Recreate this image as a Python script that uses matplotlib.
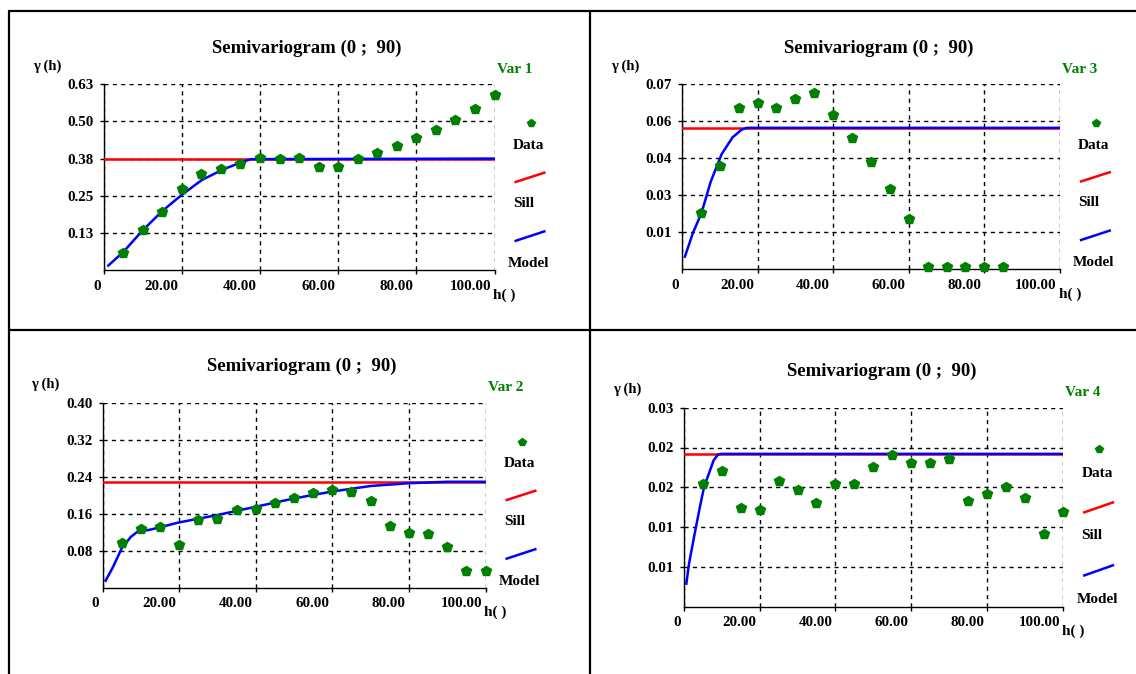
import numpy as np
import matplotlib.pyplot as plt
from matplotlib.lines import Line2D
import matplotlib.transforms as mtransforms

W, H = 1136, 674

# lag distances h (same for every variable, var 3 stops at 85)
lags = [5, 10, 15, 20, 25, 30, 35, 40, 45, 50, 55, 60, 65, 70, 75, 80, 85, 90, 95, 100]
lags_var3 = lags[:17]

var1_gamma = [0.057, 0.136, 0.197, 0.275, 0.327, 0.342, 0.361, 0.379, 0.378, 0.380,
              0.351, 0.351, 0.375, 0.398, 0.421, 0.448, 0.476, 0.510, 0.547, 0.594]
var2_gamma = [0.096, 0.128, 0.132, 0.092, 0.146, 0.149, 0.167, 0.170, 0.183, 0.195,
              0.205, 0.211, 0.207, 0.187, 0.133, 0.119, 0.116, 0.088, 0.037, 0.037]
var3_gamma = [0.0211, 0.0390, 0.0610, 0.0631, 0.0610, 0.0644, 0.0667, 0.0583, 0.0496,
              0.0405, 0.0303, 0.0190, 0.0006, 0.0006, 0.0006, 0.0006, 0.0006]
var4_gamma = [0.0154, 0.0170, 0.0124, 0.0122, 0.0158, 0.0147, 0.0130, 0.0154, 0.0154, 0.0175,
              0.0191, 0.0180, 0.0180, 0.0186, 0.0133, 0.0142, 0.0151, 0.0137, 0.0091, 0.0119]

# sills
sill = {"Var 1": 0.378, "Var 2": 0.229, "Var 3": 0.0535, "Var 4": 0.0192}

# fitted model curves
var1_model_h = [1.2, 5.1, 10.1, 15.1, 19.9, 25.1, 30.2, 35.1, 37.7, 100]
var1_model_g = [0.015, 0.062, 0.136, 0.201, 0.254, 0.305, 0.339, 0.365, 0.376, 0.378]
var2_model_h = [0.8, 2.7, 5.0, 7.4, 9.3, 12.2, 14.7, 19.9, 29.9, 40.0, 50.0, 60.0, 70.1, 80.1, 90.0, 100]
var2_model_g = [0.015, 0.044, 0.085, 0.110, 0.122, 0.125, 0.130, 0.141, 0.157, 0.175, 0.193,
                0.208, 0.220, 0.226, 0.229, 0.229]
var3_model_h = [0.8, 2.9, 5.2, 7.6, 10.5, 13.4, 15.8, 17.2, 100]
var3_model_g = [0.0047, 0.0136, 0.0213, 0.0330, 0.0435, 0.0499, 0.0528, 0.0535, 0.0535]
var4_model_h = [0.7, 1.4, 2.9, 4.3, 5.4, 6.7, 7.9, 9.0, 10.0, 100]
var4_model_g = [0.0029, 0.0054, 0.0092, 0.0126, 0.0151, 0.0168, 0.0184, 0.0191, 0.0192, 0.0192]

# axis tops and tick labels
x_ticks = [0, 20, 40, 60, 80, 100]
x_ticklabels = ["0", "20.00", "40.00", "60.00", "80.00", "100.00"]
ytop = {"Var 1": 0.63, "Var 2": 0.40, "Var 3": 0.07, "Var 4": 0.025}
y_ticklabels = {
    "Var 1": ["0.13", "0.25", "0.38", "0.50", "0.63"],
    "Var 2": ["0.08", "0.16", "0.24", "0.32", "0.40"],
    "Var 3": ["0.01", "0.03", "0.04", "0.06", "0.07"],
    "Var 4": ["0.01", "0.01", "0.02", "0.02", "0.03"],
}

panels = [
    # name, h, gamma, model h, model g, axes box in pixels (L, T, R, B)
    ("Var 1", lags, var1_gamma, var1_model_h, var1_model_g, (103.6, 84.3, 494.5, 270.0)),
    ("Var 3", lags_var3, var3_gamma, var3_model_h, var3_model_g, (681.9, 84.3, 1059.9, 269.0)),
    ("Var 2", lags, var2_gamma, var2_model_h, var2_model_g, (102.5, 402.7, 485.5, 587.7)),
    ("Var 4", lags, var4_gamma, var4_model_h, var4_model_g, (683.7, 407.7, 1063.1, 606.7)),
]

FONT = "Liberation Serif"
GREEN = "#008000"

fig = plt.figure(figsize=(W / 100, H / 100), dpi=100)


def fx(x):
    return x / W


def fy(y):
    return 1 - y / H


def ftext(x, y, s, size=10.5, color="black", ha="center"):
    fig.text(fx(x), fy(y), s, fontsize=size, fontfamily=FONT, fontweight="bold",
             color=color, ha=ha, va="center")


def fline(x0, y0, x1, y1, color, lw):
    fig.add_artist(Line2D([fx(x0), fx(x1)], [fy(y0), fy(y1)], color=color, lw=lw,
                          transform=fig.transFigure, solid_capstyle="butt"))


# table borders
fline(8, 11, W, 11, "black", 1.6)
fline(8.5, 11, 8.5, H, "black", 1.6)
fline(590, 11, 590, H, "black", 1.6)
fline(8, 330, W, 330, "black", 1.6)

for name, h, g, mh, mg, (L, T, R, B) in panels:
    ax = fig.add_axes([fx(L), fy(B), (R - L) / W, (B - T) / H])
    top = ytop[name]
    yt = [top * k / 5 for k in range(1, 6)]

    ax.plot([0, 100], [sill[name], sill[name]], color="#ff0000", lw=1.8, zorder=3)
    ax.plot(mh, mg, color="#0000ff", lw=1.8, zorder=4)
    ax.plot(h, g, ls="none", marker="p", ms=7, color=GREEN, mec=GREEN, zorder=5, clip_on=False)

    ax.set_xlim(0, 100)
    ax.set_ylim(0, top)
    ax.set_xticks(x_ticks)
    ax.set_xticklabels(x_ticklabels)
    ax.set_yticks(yt)
    ax.set_yticklabels(y_ticklabels[name])
    ax.grid(True, color="black", lw=1.0, ls=(0, (3, 3)))
    for s in ("top", "right"):
        ax.spines[s].set_visible(False)
    for s in ("left", "bottom"):
        ax.spines[s].set_linewidth(1.0)
    ax.tick_params(direction="out", length=3, width=1, pad=4)
    for lab in ax.get_xticklabels() + ax.get_yticklabels():
        lab.set_fontfamily(FONT)
        lab.set_fontweight("bold")
        lab.set_fontsize(10.8)
    shift = mtransforms.ScaledTranslation(-3 / 100, 0, fig.dpi_scale_trans)
    for lab in ax.get_xticklabels():
        lab.set_horizontalalignment("right")
        lab.set_transform(lab.get_transform() + shift)
    ax.set_axisbelow(True)

    hgt = B - T
    ftext((L + R) / 2 + 8, T - 36, "Semivariogram (0 ;  90)", size=13.5)
    ftext(L - 71, T - 18, "γ (h)", size=10.5, ha="left")
    ftext(R + 20, T - 15, name, color=GREEN, size=11)
    fig.add_artist(Line2D([fx(R + 36)], [fy(T + 0.21 * hgt)], marker="p", ms=6,
                          color=GREEN, ls="none", transform=fig.transFigure))
    ftext(R + 34, T + 0.33 * hgt, "Data", size=11)
    fline(R + 20, T + 0.528 * hgt, R + 51, T + 0.474 * hgt, "#ff0000", 1.8)
    ftext(R + 29, T + 0.64 * hgt, "Sill", size=11)
    fline(R + 20, T + 0.845 * hgt, R + 51, T + 0.79 * hgt, "#0000ff", 1.8)
    ftext(R + 34, T + 0.964 * hgt, "Model", size=11)
    ftext(R + 10, B + 25, "h( )", size=11)

fig.savefig("out.png", dpi=100)
